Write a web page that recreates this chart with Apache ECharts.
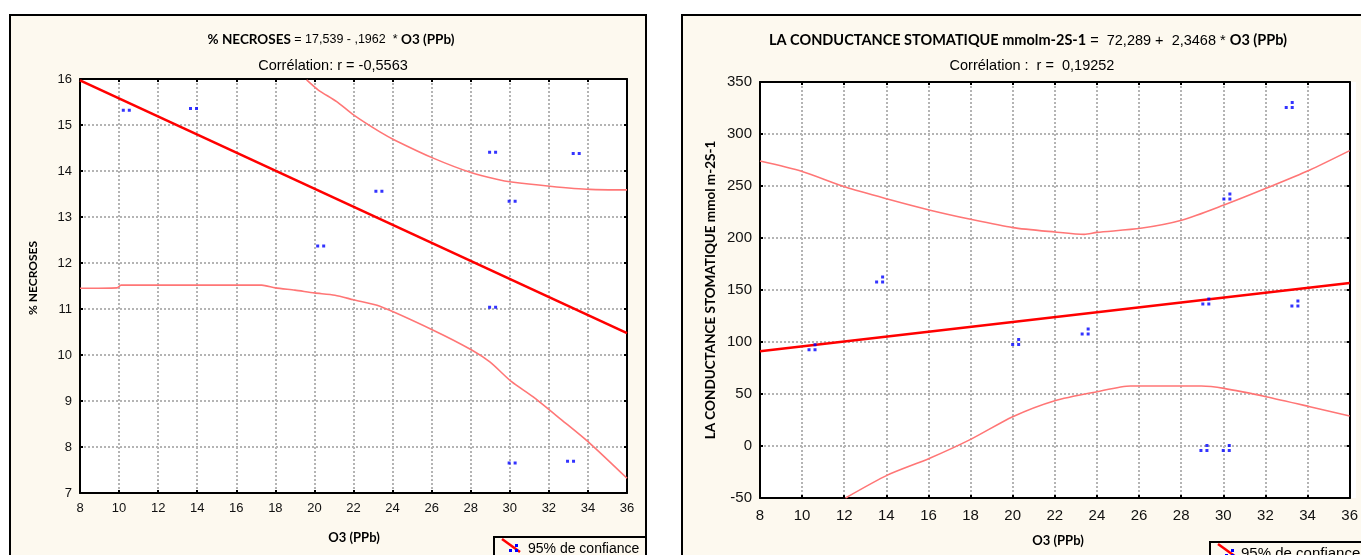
<!DOCTYPE html>
<html>
<head>
<meta charset="utf-8">
<script src="https://cdn.jsdelivr.net/npm/echarts@6/dist/echarts.min.js"></script>
<style>
  html, body { margin: 0; padding: 0; background: #ffffff; }
  #wrap { position: relative; width: 1361px; height: 555px; overflow: hidden; }
  .panel { position: absolute; background: #fdf9ef; border: 2px solid #000; box-sizing: border-box; }
  .plot { position: absolute; background: #ffffff; }
  #chart { position: absolute; left: 0; top: 0; width: 1361px; height: 555px; }
</style>
</head>
<body>
<div id="wrap">
  <div class="panel" style="left:9px;top:14px;width:638px;height:580px"></div>
  <div class="panel" style="left:681px;top:14px;width:720px;height:580px"></div>
  <div class="plot" style="left:80px;top:79px;width:547px;height:414px"></div>
  <div class="plot" style="left:760px;top:82px;width:596px;height:416px"></div>
  <div id="chart"></div>
</div>
<script>
// Observations: ozone exposure (O3, ppb) against the measured response
const o3Necrose   = [10.37, 13.81, 20.32, 23.3, 29.12, 30.12, 33.4, 29.12, 30.12, 33.11];
const necrose     = [15.32, 15.36, 12.37, 13.56, 14.41, 13.34, 14.38, 11.04, 7.65, 7.69];
const o3Conduct   = [10.47, 13.68, 20.14, 23.44, 29.17, 33.4, 29.08, 30.14, 30.17, 33.13];
const conductance = [95, 160, 100, 110, 139, 137, -2, -2, 240, 328];

// Linear fits (intercept a, slope b, correlation r)
const fitNecrose = { a: 17.539, b: -0.1962, r: -0.5563 };
const fitConduct = { a: 72.289, b: 2.3468, r: 0.19252 };

// 95% confidence limits, [O3, value]
const necroseUpper = [[19.6, 15.98], [20.2, 15.76], [21.14, 15.51], [22.0, 15.22], [23.35, 14.85], [24.12, 14.67],
  [26.08, 14.28], [28.05, 13.96], [29.33, 13.82], [30.09, 13.76], [32.05, 13.67], [34.1, 13.6], [36, 13.59]];
const necroseLower = [[8, 11.45], [9.9, 11.46], [10.1, 11.52], [17.3, 11.52], [18, 11.46], [19, 11.41], [20, 11.35],
  [21.05, 11.3], [22, 11.2], [23.35, 11.06], [26.08, 10.54], [28.05, 10.11], [28.98, 9.85], [30.09, 9.42],
  [31.2, 9.09], [32.65, 8.59], [34.1, 8.08], [36, 7.32]];
const conductUpper = [[8, 274], [10, 264], [12.06, 249], [14.05, 237.5], [16.03, 227], [18, 218], [20, 210],
  [22, 205.8], [23.4, 203.5], [24, 205.4], [26.07, 209.3], [28.06, 217.3], [30.03, 231.7], [32.03, 247.8],
  [34.11, 265.4], [36, 284]];
const conductLower = [[12.06, -50], [14.05, -28], [16.03, -12], [18, 6.4], [20, 28.2], [22, 43.6], [24, 52.2],
  [25.6, 57.7], [28.96, 57.7], [30.03, 55.4], [32.03, 47.4], [34.11, 37.8], [36, 28.8]];

// Axis ticks
const o3Ticks = { min: 8, max: 36, interval: 2 };
const necroseTicks = { min: 7, max: 16, interval: 1 };
const conductTicks = { min: -50, max: 350, interval: 50 };

const SANS = '"Liberation Sans", Arial, sans-serif';
const BOLD = 'Lato, "Liberation Sans", sans-serif';
const CREAM = '#fdf9ef';
const RED = '#ff0000';
const BAND = '#ff7676';
const BLUE = '#0000ff';

const statNum = (v, d, dropZero) => {
  let s = Math.abs(v).toFixed(d);
  if (dropZero) s = s.replace(/^0\./, '.');
  return s.replace('.', ',');
};
const fitLine = (fit, t) => [[t.min, fit.a + fit.b * t.min], [t.max, fit.a + fit.b * t.max]];
const zip = (xs, ys) => xs.map((x, i) => [x, ys[i]]);

// Dotted grey grid, black frame with inward ticks on all four sides
const gridLine = () => ({ show: true, lineStyle: { color: '#b4b4b4', width: 2, type: [2, 2] } });
const frameLine = () => ({ show: true, onZero: false, lineStyle: { color: '#000', width: 2 } });
const innerTick = () => ({ show: true, inside: true, length: 3, lineStyle: { color: '#000', width: 2 } });

function xAxisAt(gi, pos, size, margin) {
  return {
    gridIndex: gi, type: 'value', position: pos, ...o3Ticks,
    axisLine: frameLine(), axisTick: innerTick(),
    axisLabel: size ? { fontFamily: SANS, fontSize: size, color: '#111', margin: margin } : { show: false },
    splitLine: gridLine()
  };
}
function yAxisAt(gi, pos, t, size, margin) {
  return {
    gridIndex: gi, type: 'value', position: pos, ...t,
    axisLine: frameLine(), axisTick: innerTick(),
    axisLabel: size ? { fontFamily: SANS, fontSize: size, color: '#111', margin: margin } : { show: false },
    splitLine: gridLine()
  };
}

const pairMark = 'path://M0,0h3v3h-3z M6,0h3v3h-3z';
const trioMark = 'path://M0,5h3v3h-3z M6,5h3v3h-3z M6,0h3v3h-3z';

function bandSeries(idx, data) {
  return { type: 'line', xAxisIndex: idx, yAxisIndex: idx, data: data, symbol: 'none', silent: true,
    smooth: 0.25, lineStyle: { color: BAND, width: 1.6 }, z: 6 };
}

const chart = echarts.init(document.getElementById('chart'));

const titleNecrose = '{b|% NECROSES} = ' + statNum(fitNecrose.a, 3) + ' - ' + statNum(fitNecrose.b, 4, true) + '  * {b|O3 (PPb)}';
const titleConduct = '{b|LA CONDUCTANCE STOMATIQUE mmolm-2S-1} =  ' + statNum(fitConduct.a, 3) + ' +  ' + statNum(fitConduct.b, 4) + ' * {b|O3 (PPb)}';

function legendBox(x, y, w, fontSize, textX) {
  return {
    type: 'group', children: [
      { type: 'rect', shape: { x: x, y: y, width: w, height: 40 }, style: { fill: CREAM, stroke: '#000', lineWidth: 2 } },
      { type: 'line', shape: { x1: x + 8, y1: y + 2, x2: x + 26, y2: y + 15 }, style: { stroke: RED, lineWidth: 2.5 } },
      { type: 'rect', shape: { x: x + 15, y: y + 12, width: 3, height: 3 }, style: { fill: BLUE } },
      { type: 'rect', shape: { x: x + 21, y: y + 12, width: 3, height: 3 }, style: { fill: BLUE } },
      { type: 'rect', shape: { x: x + 21, y: y + 7, width: 3, height: 3 }, style: { fill: BLUE } },
      { type: 'text', x: textX, y: y + 12, style: { text: '95% de confiance', font: fontSize + 'px ' + SANS, fill: '#000', verticalAlign: 'middle' } }
    ]
  };
}

chart.setOption({
  animation: false,
  title: [
    { text: titleNecrose, left: 326, top: 28, textAlign: 'center',
      textStyle: { fontFamily: SANS, fontSize: 12.5, fontWeight: 'normal', color: '#000',
        rich: { b: { fontFamily: BOLD, fontWeight: 'bold', fontSize: 13.5, color: '#000' } } } },
    { text: 'Corrélation: r = ' + (fitNecrose.r < 0 ? '-' : '') + statNum(fitNecrose.r, 4), left: 328, top: 53, textAlign: 'center',
      textStyle: { fontFamily: SANS, fontSize: 14.5, fontWeight: 'normal', color: '#000' } },
    { text: titleConduct, left: 1023, top: 28, textAlign: 'center',
      textStyle: { fontFamily: SANS, fontSize: 14.5, fontWeight: 'normal', color: '#000',
        rich: { b: { fontFamily: BOLD, fontWeight: 'bold', fontSize: 14.5, color: '#000' } } } },
    { text: 'Corrélation :  r =  ' + statNum(fitConduct.r, 5), left: 1027, top: 53, textAlign: 'center',
      textStyle: { fontFamily: SANS, fontSize: 14.5, fontWeight: 'normal', color: '#000' } }
  ],
  graphic: [
    { type: 'text', x: 33, y: 278, rotation: Math.PI / 2,
      style: { text: '% NECROSES', font: 'bold 12px ' + BOLD, fill: '#000', align: 'center', verticalAlign: 'middle' } },
    { type: 'text', x: 711, y: 290, rotation: Math.PI / 2,
      style: { text: 'LA CONDUCTANCE STOMATIQUE mmol m-2S-1', font: 'bold 13.5px ' + BOLD, fill: '#000', align: 'center', verticalAlign: 'middle' } },
    { type: 'text', x: 354, y: 538,
      style: { text: 'O3 (PPb)', font: 'bold 13px ' + BOLD, fill: '#000', align: 'center', verticalAlign: 'middle' } },
    { type: 'text', x: 1058, y: 541,
      style: { text: 'O3 (PPb)', font: 'bold 13px ' + BOLD, fill: '#000', align: 'center', verticalAlign: 'middle' } },
    legendBox(494, 537, 152, 14, 528),
    legendBox(1210, 542, 200, 15, 1241)
  ],
  grid: [
    { left: 80, top: 79, width: 547, height: 414, show: false },
    { left: 760, top: 82, width: 596, height: 416, show: false }
  ],
  xAxis: [xAxisAt(0, 'bottom', 13, 9), xAxisAt(1, 'bottom', 15, 10), xAxisAt(0, 'top'), xAxisAt(1, 'top')],
  yAxis: [yAxisAt(0, 'left', necroseTicks, 13, 8), yAxisAt(1, 'left', conductTicks, 15, 8),
          yAxisAt(0, 'right', necroseTicks), yAxisAt(1, 'right', conductTicks)],
  series: [
    bandSeries(0, necroseUpper),
    bandSeries(0, necroseLower),
    { type: 'line', xAxisIndex: 0, yAxisIndex: 0, data: fitLine(fitNecrose, o3Ticks), symbol: 'none', silent: true,
      lineStyle: { color: RED, width: 2.6 }, z: 7 },
    { type: 'scatter', xAxisIndex: 0, yAxisIndex: 0, data: zip(o3Necrose, necrose), symbol: pairMark,
      symbolSize: [9, 3], itemStyle: { color: BLUE }, z: 8 },
    bandSeries(1, conductUpper),
    bandSeries(1, conductLower),
    { type: 'line', xAxisIndex: 1, yAxisIndex: 1, data: fitLine(fitConduct, o3Ticks), symbol: 'none', silent: true,
      lineStyle: { color: RED, width: 2.6 }, z: 7 },
    { type: 'scatter', xAxisIndex: 1, yAxisIndex: 1, data: zip(o3Conduct, conductance), symbol: trioMark,
      symbolSize: [9, 8], itemStyle: { color: BLUE }, z: 8 }
  ]
});
</script>
</body>
</html>
